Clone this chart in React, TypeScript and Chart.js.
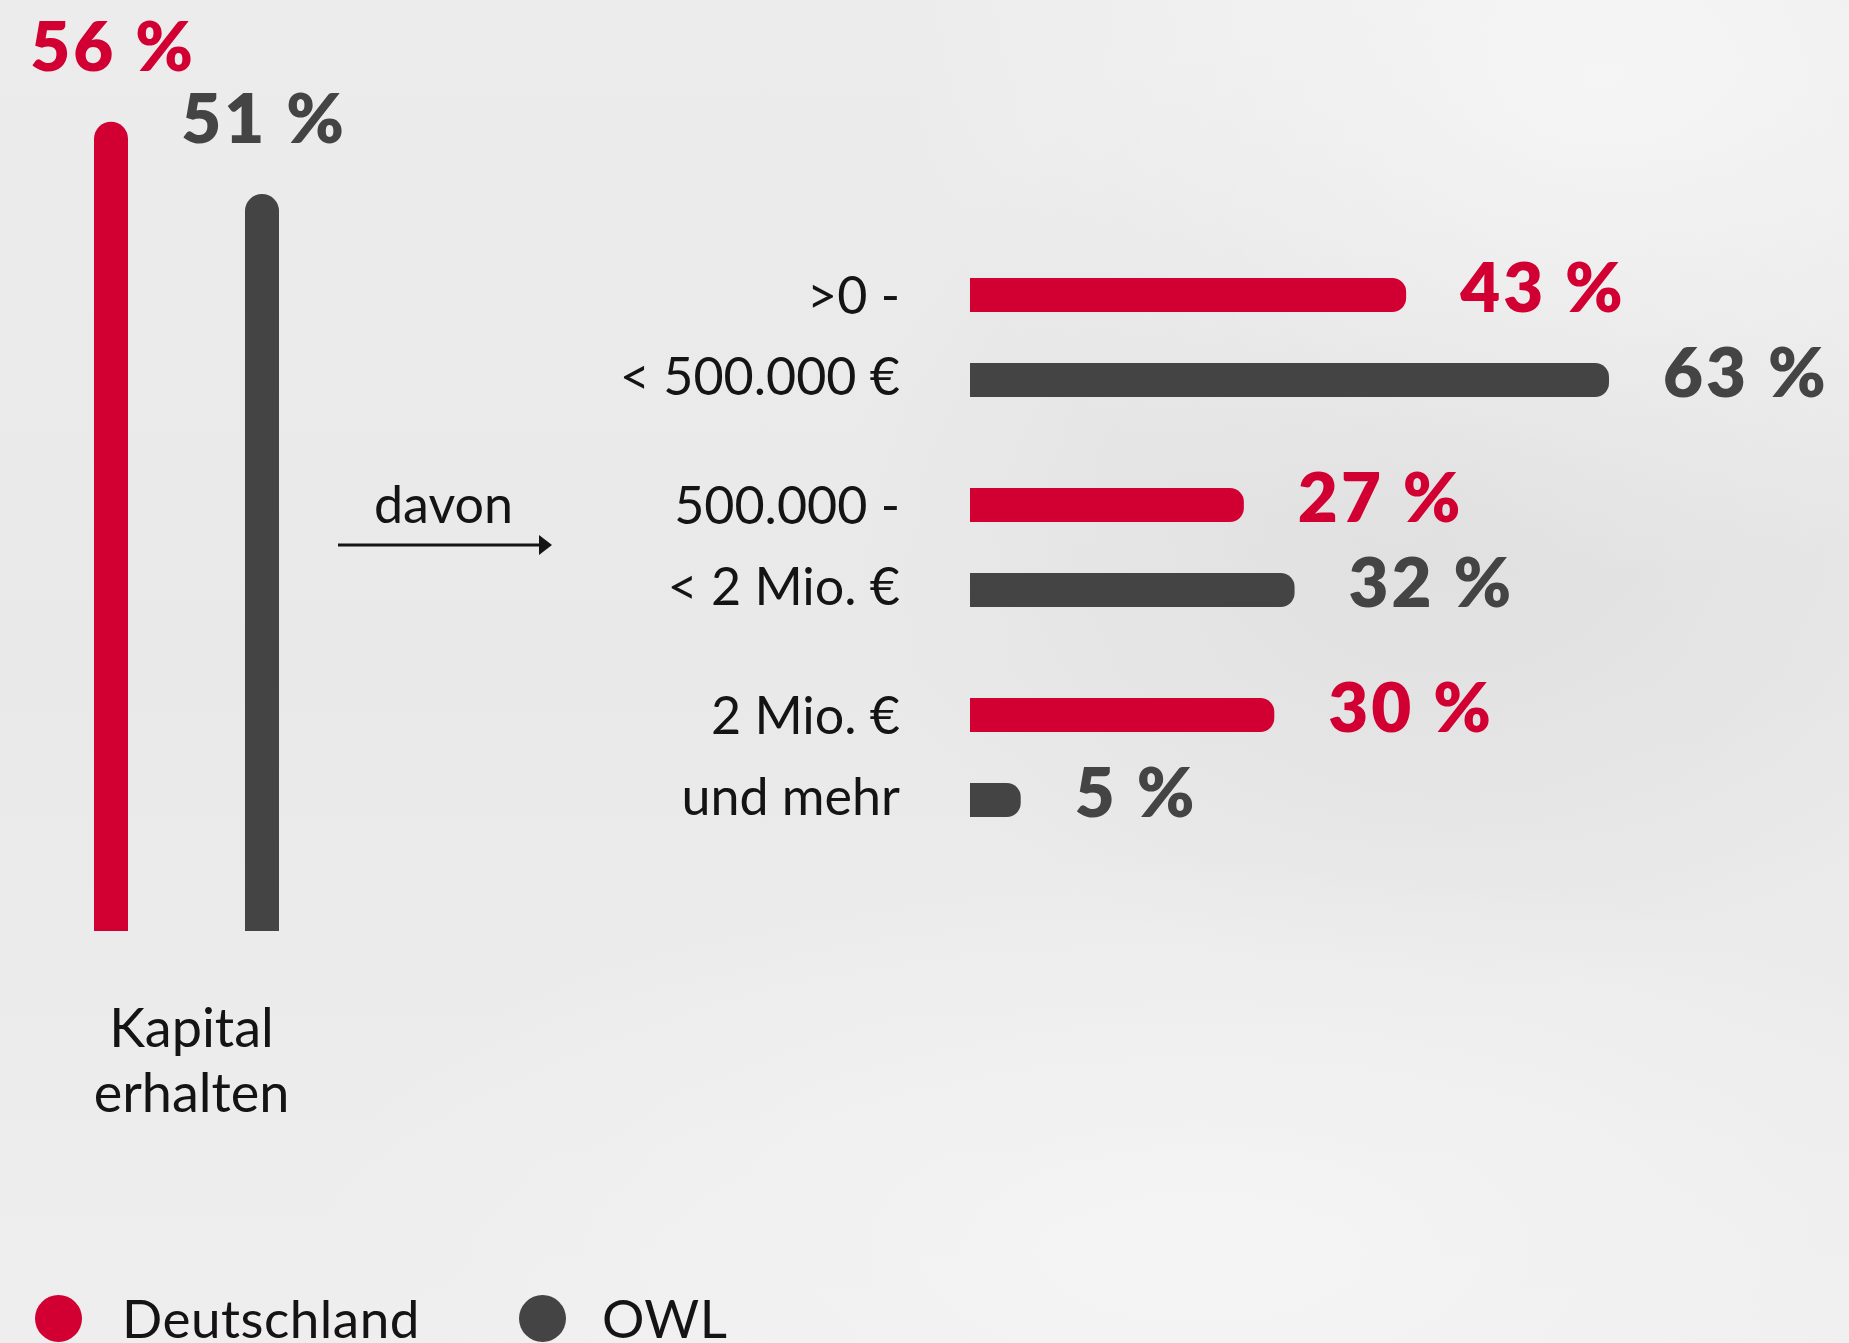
import React, { useEffect, useRef } from 'react';
import { Chart, registerables } from 'chart.js';

Chart.register(...registerables);

// ---------- data ----------
const seriesNames = ['Deutschland', 'OWL'];
const overallCategories = [['Kapital', 'erhalten']];
const overallDeutschland = [56];
const overallOWL = [51];

const sizeCategories = [
  ['>0 -', '< 500.000 €'],
  ['500.000 -', '< 2 Mio. €'],
  ['2 Mio. €', 'und mehr'],
];
const sizeDeutschland = [43, 27, 30];
const sizeOWL = [63, 32, 5];
const connectorLabel = 'davon';

// ---------- styles ----------
const RED = '#d20032';
const GREY = '#444444';
const TEXT = '#141414';
const FONT = 'Lato, "Open Sans", sans-serif';

const pctFont = `800 69px ${FONT}`;

function drawPct(ctx: any, text: string, x: number, y: number) {
  ctx.font = pctFont;
  try {
    ctx.letterSpacing = '3px';
  } catch (e) {}
  ctx.fillText(text, x, y);
  try {
    ctx.letterSpacing = '0px';
  } catch (e) {}
}

function LeftChart() {
  const ref = useRef<HTMLCanvasElement>(null);
  useEffect(() => {
    const labelsPlugin = {
      id: 'leftLabels',
      afterDatasetsDraw(chart: any) {
        const ctx = chart.ctx;
        ctx.save();
        chart.data.datasets.forEach((ds: any, di: number) => {
          const meta = chart.getDatasetMeta(di);
          meta.data.forEach((bar: any, i: number) => {
            ctx.fillStyle = ds.backgroundColor;
            ctx.textAlign = 'center';
            ctx.textBaseline = 'alphabetic';
            drawPct(ctx, `${ds.data[i]} %`, bar.x + 2, bar.y - 51);
          });
        });
        // category label under the bars
        const xs = chart.scales.x;
        const cat = chart.data.labels[0] as string[];
        ctx.font = `54px ${FONT}`;
        ctx.fillStyle = TEXT;
        ctx.textAlign = 'center';
        const cx = xs.getPixelForValue(0) + 5;
        cat.forEach((line, k) => {
          ctx.fillText(line, cx, chart.chartArea.bottom + 116 + k * 65);
        });
        ctx.restore();
      },
    };
    const chart = new Chart(ref.current!, {
      type: 'bar',
      data: {
        labels: overallCategories as any,
        datasets: [
          {
            label: seriesNames[0],
            data: overallDeutschland,
            backgroundColor: RED,
            borderRadius: 17,
            borderSkipped: 'start',
          },
          {
            label: seriesNames[1],
            data: overallOWL,
            backgroundColor: GREY,
            borderRadius: 17,
            borderSkipped: 'start',
          },
        ],
      },
      options: {
        responsive: false,
        animation: false,
        categoryPercentage: 1,
        barPercentage: 0.2252,
        layout: { padding: { left: 35.5, right: 62.5, top: 64, bottom: 412 } },
        plugins: { legend: { display: false }, tooltip: { enabled: false } },
        scales: {
          x: { display: false },
          y: { display: false, min: 0, max: 60 },
        },
      } as any,
      plugins: [labelsPlugin],
    });
    return () => chart.destroy();
  }, []);
  return (
    <canvas
      ref={ref}
      width={400}
      height={1343}
      style={{ position: 'absolute', left: 0, top: 0, width: 400, height: 1343 }}
    />
  );
}

function RightChart() {
  const ref = useRef<HTMLCanvasElement>(null);
  useEffect(() => {
    const labelsPlugin = {
      id: 'rightLabels',
      afterDatasetsDraw(chart: any) {
        const ctx = chart.ctx;
        ctx.save();
        chart.data.datasets.forEach((ds: any, di: number) => {
          const meta = chart.getDatasetMeta(di);
          meta.data.forEach((bar: any, i: number) => {
            ctx.fillStyle = ds.backgroundColor;
            ctx.textAlign = 'left';
            ctx.textBaseline = 'alphabetic';
            drawPct(ctx, `${ds.data[i]} %`, bar.x + 54, bar.y + 17);
          });
        });
        // "davon" connector with arrow
        const left = chart.chartArea.left;
        const top = chart.chartArea.top;
        ctx.font = `52px ${FONT}`;
        ctx.fillStyle = TEXT;
        ctx.textAlign = 'center';
        ctx.fillText(connectorLabel, left - 526.5, top + 290.5);
        const ay = top + 312.5;
        ctx.strokeStyle = TEXT;
        ctx.lineWidth = 3;
        ctx.beginPath();
        ctx.moveTo(left - 632, ay);
        ctx.lineTo(left - 428, ay);
        ctx.stroke();
        ctx.beginPath();
        ctx.moveTo(left - 431, ay - 10);
        ctx.lineTo(left - 418, ay);
        ctx.lineTo(left - 431, ay + 10);
        ctx.closePath();
        ctx.fill();
        ctx.restore();
      },
    };
    const chart = new Chart(ref.current!, {
      type: 'bar',
      data: {
        labels: sizeCategories as any,
        datasets: [
          {
            label: seriesNames[0],
            data: sizeDeutschland,
            backgroundColor: RED,
            borderRadius: 14,
            borderSkipped: 'start',
          },
          {
            label: seriesNames[1],
            data: sizeOWL,
            backgroundColor: GREY,
            borderRadius: 14,
            borderSkipped: 'start',
          },
        ],
      },
      options: {
        indexAxis: 'y',
        responsive: false,
        animation: false,
        categoryPercentage: 0.8095,
        barPercentage: 0.4,
        layout: { padding: { left: 0, right: 169, top: 182.5, bottom: 187.5 } },
        plugins: { legend: { display: false }, tooltip: { enabled: false } },
        scales: {
          x: { display: false, min: 0, max: 70 },
          y: {
            grid: { display: false, drawTicks: false },
            border: { display: false },
            ticks: {
              padding: 70,
              color: TEXT,
              font: { family: FONT, size: 52, lineHeight: 1.56 },
            },
            afterFit: (s: any) => {
              s.width = 670;
            },
          },
        },
      } as any,
      plugins: [labelsPlugin],
    });
    return () => chart.destroy();
  }, []);
  return (
    <canvas
      ref={ref}
      width={1549}
      height={1000}
      style={{ position: 'absolute', left: 300, top: 50, width: 1549, height: 1000 }}
    />
  );
}

function Legend() {
  const colors = [RED, GREY];
  const dotX = [34.5, 518.5];
  const textX = [122, 602];
  return (
    <>
      {seriesNames.map((name, i) => (
        <React.Fragment key={name}>
          <div
            style={{
              position: 'absolute',
              left: dotX[i],
              top: 1295,
              width: 47,
              height: 47,
              borderRadius: '50%',
              background: colors[i],
            }}
          />
          <div
            style={{
              position: 'absolute',
              left: textX[i],
              top: 1292,
              font: `53px ${FONT}`,
              lineHeight: '52px',
              letterSpacing: '0.5px',
              color: TEXT,
              whiteSpace: 'nowrap',
            }}
          >
            {name}
          </div>
        </React.Fragment>
      ))}
    </>
  );
}

export default function App() {
  return (
    <div
      style={{
        position: 'fixed',
        left: 0,
        top: 0,
        width: 1849,
        height: 1343,
        overflow: 'hidden',
        fontFamily: FONT,
        background:
          'radial-gradient(ellipse 700px 500px at 1600px 80px, rgba(246,246,246,0.9), rgba(246,246,246,0) 100%),' +
          'radial-gradient(ellipse 900px 400px at 1200px 1250px, rgba(245,245,245,0.9), rgba(245,245,245,0) 100%),' +
          'radial-gradient(ellipse 600px 500px at 1450px 500px, rgba(222,222,222,0.9), rgba(222,222,222,0) 100%),' +
          'linear-gradient(180deg, #ececec 0%, #e9e9e9 50%, #eeeeee 100%)',
      }}
    >
      <LeftChart />
      <RightChart />
      <Legend />
    </div>
  );
}
